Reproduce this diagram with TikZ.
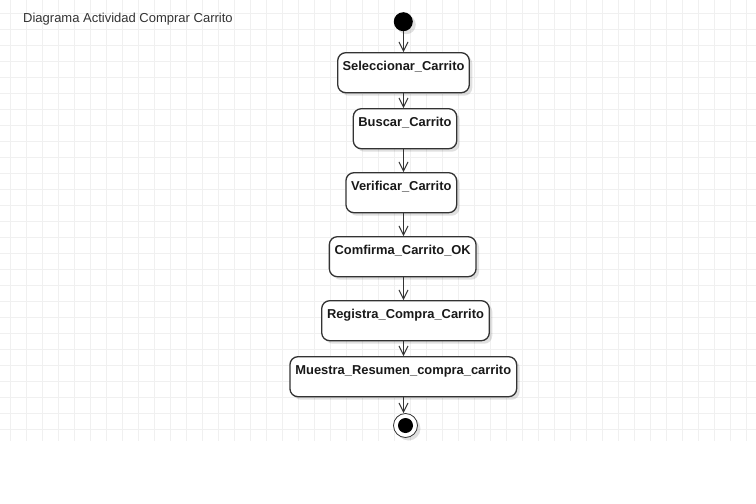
\documentclass[tikz,border=0pt]{standalone}
\usepackage{fontspec}
\setmainfont{Liberation Sans}
\usetikzlibrary{arrows.meta,shadows}
\definecolor{gridc}{HTML}{F0F0F0}
\definecolor{linec}{HTML}{333333}
\begin{document}
\begin{tikzpicture}[x=1pt,y=-1pt,
  act/.style={draw=linec,line width=1.3pt,rounded corners=8pt,fill=white,
    minimum height=40pt,inner ysep=4pt,inner xsep=2pt,text height=14pt,text depth=18pt,
    font=\fontsize{12.9}{14}\selectfont\bfseries,text=black!90,
    drop shadow={shadow xshift=3pt,shadow yshift=-3pt,fill=black,opacity=0.12}},
  flow/.style={draw=linec,line width=1pt,-{Straight Barb[length=9pt,width=9pt,line width=1pt]}},
  ttl/.style={font=\fontsize{13}{15}\selectfont,text=linec,anchor=base west,inner sep=0pt}]
\useasboundingbox (0,0) rectangle (756,504);
\fill[white] (0,0) rectangle (756,504);
% grid
\foreach \i in {0,...,46} {\draw[gridc,line width=0.8pt] (10.7+16*\i,0) -- (10.7+16*\i,441);}
\foreach \j in {0,...,26} {\draw[gridc,line width=0.8pt] (0,13.3+16*\j) -- (756,13.3+16*\j);}
% title
\node[ttl] (title) at (23,22) {Diagrama Actividad Comprar Carrito};
\coordinate (ax) at (403.5,0);
% start
\node[circle,fill=black,minimum size=19pt,inner sep=0pt,
  drop shadow={shadow xshift=3pt,shadow yshift=-3pt,fill=black,opacity=0.12}] (start) at (403.3,21.7) {};
% activities
\node[act,minimum width=131.6pt] (a1) at (403.5,72.7) {Seleccionar\_Carrito};
\node[act,minimum width=103.4pt] (a2) at (405,128.7) {Buscar\_Carrito};
\node[act,minimum width=110.7pt] (a3) at (401.3,192.7) {Verificar\_Carrito};
\node[act,minimum width=146.7pt] (a4) at (402.7,256.7) {Comfirma\_Carrito\_OK};
\node[act,minimum width=167.6pt] (a5) at (405.5,320.7) {Registra\_Compra\_Carrito};
\node[act,minimum width=226.7pt] (a6) at (403.3,376.7) {Muestra\_Resumen\_compra\_carrito};
% end
\node[circle,draw=linec,line width=0.8pt,fill=white,minimum size=24pt,inner sep=0pt,
  drop shadow={shadow xshift=3pt,shadow yshift=-3pt,fill=black,opacity=0.12}] (endo) at (405.5,425.5) {};
\node[circle,fill=black,minimum size=15pt,inner sep=0pt] (endi) at (endo.center) {};
% flows
\draw[flow] (start.south -| ax) -- (a1.north -| ax);
\draw[flow] (a1.south -| ax) -- (a2.north -| ax);
\draw[flow] (a2.south -| ax) -- (a3.north -| ax);
\draw[flow] (a3.south -| ax) -- (a4.north -| ax);
\draw[flow] (a4.south -| ax) -- (a5.north -| ax);
\draw[flow] (a5.south -| ax) -- (a6.north -| ax);
\draw[flow] (a6.south -| ax) -- (endo.north -| ax);
\end{tikzpicture}
\end{document}
